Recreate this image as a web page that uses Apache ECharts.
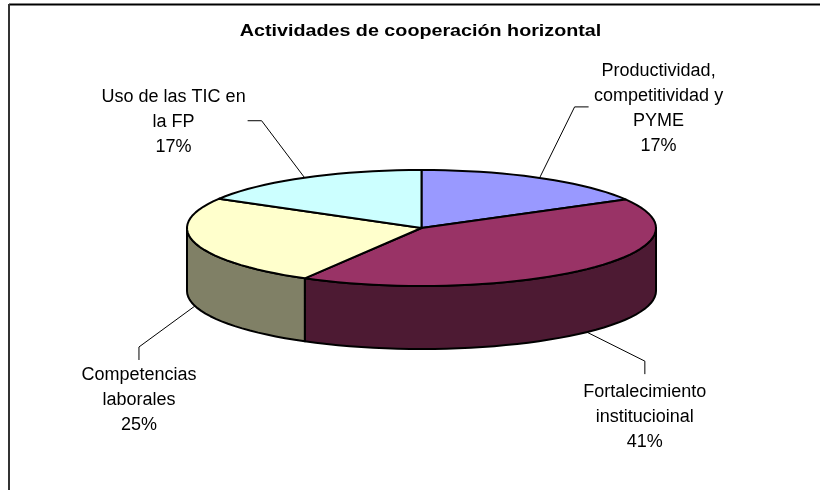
<!DOCTYPE html>
<html>
<head>
<meta charset="utf-8">
<title>Actividades de cooperación horizontal</title>
<script src="https://cdn.jsdelivr.net/npm/echarts@6/dist/echarts.min.js"></script>
<style>
html, body { margin: 0; padding: 0; background: #fff; }
#chart { width: 820px; height: 490px; }
</style>
</head>
<body>
<div id="chart"></div>
<script>
var chartTitle = 'Actividades de cooperación horizontal';
var categories = ['Productividad,\ncompetitividad y\nPYME', 'Fortalecimiento\ninstitucioinal', 'Competencias\nlaborales', 'Uso de las TIC en\nla FP'];
var values = [16.8, 41.49, 25.1, 16.61];
var topColors = ['#9999ff', '#993366', '#ffffcc', '#ccffff'];
var sideColors = ['#4d4d80', '#4d1a33', '#808066', '#668080'];

// ellipse of the pie top, and the height of the side wall
var cx = 421.5, cy = 228, rx = 234.5, ry = 58, depth = 63;
var fontFamily = '"Liberation Sans", Arial, sans-serif';

// leader line elbows and label centres, relative to the slice anchor
var leaders = [
    { elbow: [35, -71], end: [49, -71], label: [119, -119] },
    { elbow: [58, 29], end: [58, 42], label: [58, 47] },
    { elbow: [-56, 41], end: [-56, 54], label: [-56, 57] },
    { elbow: [-43, -57], end: [-57, -57], label: [-131, -93] }
];

var total = 0;
for (var i = 0; i < values.length; i++) total += values[i];

var startAngles = [];
var sum = 0;
for (var i = 0; i < values.length; i++) {
    startAngles.push(sum / total * 360);
    sum += values[i];
}

// angle is clockwise from the back of the pie
function rimPoint(deg, dy) {
    var a = deg * Math.PI / 180;
    return [cx + rx * Math.sin(a), cy - ry * Math.cos(a) + dy];
}

function arcPoints(from, to, dy) {
    var pts = [];
    var n = Math.max(2, Math.ceil((to - from) / 3));
    for (var k = 0; k <= n; k++) {
        pts.push(rimPoint(from + (to - from) * k / n, dy));
    }
    return pts;
}

function renderSlice(params) {
    var idx = params.dataIndex;
    var from = startAngles[idx];
    var to = from + values[idx] / total * 360;
    var children = [];
    var outline = { stroke: '#000', lineWidth: 2, lineJoin: 'round' };

    // side wall, only the part facing the viewer
    var wallFrom = Math.max(from, 90), wallTo = Math.min(to, 270);
    if (wallTo > wallFrom) {
        var wall = arcPoints(wallFrom, wallTo, 0).concat(arcPoints(wallFrom, wallTo, depth).reverse());
        children.push({
            type: 'polygon',
            shape: { points: wall },
            style: Object.assign({ fill: sideColors[idx] }, outline)
        });
    }

    children.push({
        type: 'polygon',
        shape: { points: [[cx, cy]].concat(arcPoints(from, to, 0)) },
        style: Object.assign({ fill: topColors[idx] }, outline)
    });

    // leader line starts on the rim at the middle of the slice
    var mid = (from + to) / 2;
    var anchor = rimPoint(mid, mid > 90 && mid < 270 ? depth : 0);
    var lead = leaders[idx];
    children.push({
        type: 'polyline',
        shape: { points: [
            anchor,
            [anchor[0] + lead.elbow[0], anchor[1] + lead.elbow[1]],
            [anchor[0] + lead.end[0], anchor[1] + lead.end[1]]
        ] },
        style: { fill: null, stroke: '#000', lineWidth: 1 }
    });
    children.push({
        type: 'text',
        x: anchor[0] + lead.label[0],
        y: anchor[1] + lead.label[1],
        style: {
            text: categories[idx] + '\n' + Math.round(values[idx] / total * 100) + '%',
            fill: '#000',
            font: '18px ' + fontFamily,
            lineHeight: 25,
            align: 'center',
            verticalAlign: 'top'
        }
    });
    return { type: 'group', children: children };
}

var sliceData = [];
for (var i = 0; i < categories.length; i++) {
    sliceData.push({ name: categories[i], value: values[i] });
}

var chart = echarts.init(document.getElementById('chart'), null, { renderer: 'canvas' });
chart.setOption({
    animation: false,
    backgroundColor: '#fff',
    graphic: [
        { type: 'line', silent: true, shape: { x1: 9, y1: 4.5, x2: 820, y2: 4.5 }, style: { stroke: '#000', lineWidth: 2 } },
        { type: 'line', silent: true, shape: { x1: 9, y1: 4, x2: 9, y2: 490 }, style: { stroke: '#333', lineWidth: 2 } },
        // the title in the reference is stretched wider than the font
        {
            type: 'text',
            silent: true,
            x: 420.5,
            y: 31,
            scaleX: 1.16,
            style: {
                text: chartTitle,
                fill: '#000',
                font: 'bold 17px ' + fontFamily,
                align: 'center',
                verticalAlign: 'middle'
            }
        }
    ],
    series: [{
        type: 'custom',
        coordinateSystem: 'none',
        silent: true,
        renderItem: renderSlice,
        data: sliceData
    }]
});
</script>
</body>
</html>
